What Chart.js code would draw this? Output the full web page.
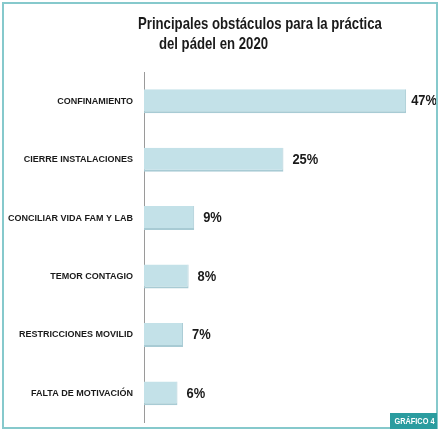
<!DOCTYPE html>
<html>
<head>
<meta charset="utf-8">
<script src="https://cdn.jsdelivr.net/npm/chart.js@4"></script>
<style>
  html, body { margin: 0; padding: 0; background: #fff; }
  #wrap { position: relative; width: 440px; height: 431px; }
  canvas { display: block; }
  #frame { position: absolute; left: 2px; top: 2px; width: 432px; height: 423px;
           border: 2px solid #86c9cc; pointer-events: none; }
  #title { position: absolute; left: 138px; top: 14px; font-family: "Liberation Sans", sans-serif;
           font-weight: bold; font-size: 17px; line-height: 20px; color: #1a1a1a;
           white-space: nowrap; transform: scaleX(0.775); transform-origin: 0 0; }
  #title .l2 { padding-left: 27px; }
  #badge { position: absolute; left: 390px; top: 413px; width: 47px; height: 16px;
           background: #2a9c9f; color: #fff; font-family: "Liberation Sans", sans-serif;
           font-weight: bold; font-size: 9px; line-height: 16px; text-align: center; overflow: hidden; }
  #badge span { display: inline-block; transform: scaleX(0.82); white-space: nowrap; }
</style>
</head>
<body>
<div id="wrap">
  <canvas id="barChart" width="440" height="431"></canvas>
  <div id="frame"></div>
  <div id="title">Principales obstáculos para la práctica<br><span class="l2">del pádel en 2020</span></div>
  <div id="badge"><span>GRÁFICO 4</span></div>
</div>
<script>
var categories = ['CONFINAMIENTO', 'CIERRE INSTALACIONES', 'CONCILIAR VIDA FAM Y LAB',
                  'TEMOR CONTAGIO', 'RESTRICCIONES MOVILID', 'FALTA DE MOTIVACIÓN'];
var values = [47, 25, 9, 8, 7, 6];

// value labels next to each bar, squeezed a bit to look condensed
var valueLabels = {
    id: 'valueLabels',
    afterDatasetsDraw: function(chart) {
        var ctx = chart.ctx;
        var meta = chart.getDatasetMeta(0);
        var sx = 0.86;
        ctx.save();
        ctx.font = 'bold 15px "Liberation Sans", sans-serif';
        ctx.fillStyle = '#1a1a1a';
        ctx.textBaseline = 'middle';
        meta.data.forEach(function(bar, i) {
            var txt = values[i] + '%';
            var w = ctx.measureText(txt).width * sx;
            var x = Math.min(bar.x + 9, 437 - w);
            ctx.save();
            ctx.translate(x, bar.y);
            ctx.scale(sx, 1);
            ctx.fillText(txt, 0, 0);
            ctx.restore();
        });
        ctx.restore();
    }
};

var ctx = document.getElementById('barChart').getContext('2d');
var myChart = new Chart(ctx, {
    type: 'bar',
    data: {
        labels: categories,
        datasets: [{
            data: values,
            backgroundColor: '#c3e1e8',
            borderColor: '#a8cbd4',
            borderWidth: { top: 0, right: 1, bottom: 2, left: 0 },
            borderSkipped: false,
            barPercentage: 0.41,
            categoryPercentage: 1
        }]
    },
    options: {
        indexAxis: 'y',
        responsive: false,
        animation: false,
        layout: { padding: { top: 72, bottom: 6, left: 0, right: 6 } },
        plugins: {
            legend: { display: false },
            tooltip: { enabled: false }
        },
        scales: {
            x: { display: false, min: 0, max: 52 },
            y: {
                afterFit: function(scale) { scale.width = 144; },
                grid: { display: false },
                border: { display: true, color: '#9a9a9a', width: 1 },
                ticks: {
                    padding: 3,
                    color: '#1a1a1a',
                    font: { family: '"Liberation Sans", sans-serif', weight: 'bold', size: 9 }
                }
            }
        }
    },
    plugins: [valueLabels]
});
</script>
</body>
</html>
